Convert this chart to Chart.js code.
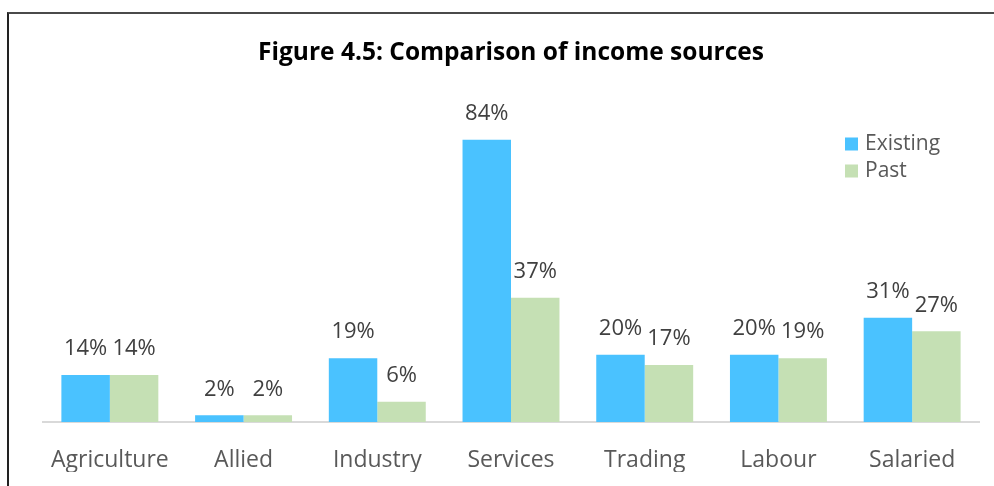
<!DOCTYPE html>
<html>
<head>
<meta charset="utf-8">
<script src="https://cdn.jsdelivr.net/npm/chart.js@4"></script>
<style>
  html, body { margin: 0; padding: 0; background: #fff; overflow: hidden; }
  #frame { position: absolute; left: 7px; top: 12px; width: 1100px; height: 600px;
           border-top: 2px solid #4a4a4a; border-left: 2px solid #222; }
  #wrap { position: absolute; left: 0; top: 0; width: 994px; height: 486px; }
</style>
</head>
<body>
<div id="frame"></div>
<div id="wrap"><canvas id="income-chart"></canvas></div>
<script>
/* Income source shares, in percent */
let categories = ['Agriculture', 'Allied', 'Industry', 'Services', 'Trading', 'Labour', 'Salaried']
let existingValues = [14, 2, 19, 84, 20, 20, 31]
let pastValues = [14, 2, 6, 37, 17, 19, 27]
let seriesNames = ['Existing', 'Past']
let seriesColors = ['#4AC2FF', '#C5E0B4']

let fontFamily = '"Open Sans", "Noto Sans", sans-serif'

// value labels above each bar
let valueLabels = {
    id: 'valueLabels',
    afterDatasetsDraw(chart) {
        let ctx = chart.ctx
        ctx.save()
        ctx.font = '22px ' + fontFamily
        ctx.fillStyle = '#404040'
        ctx.textAlign = 'center'
        ctx.textBaseline = 'middle'
        chart.data.datasets.forEach((ds, di) => {
            let meta = chart.getDatasetMeta(di)
            meta.data.forEach((bar, i) => {
                ctx.fillText(ds.data[i] + '%', bar.x, bar.y - 26)
            })
        })
        ctx.restore()
    }
}

// small legend in the top right corner of the plot
let cornerLegend = {
    id: 'cornerLegend',
    afterDraw(chart) {
        let ctx = chart.ctx
        ctx.save()
        ctx.font = '21px ' + fontFamily
        ctx.textBaseline = 'middle'
        chart.data.datasets.forEach((ds, di) => {
            let y = 144 + di * 27
            ctx.fillStyle = ds.backgroundColor
            ctx.fillRect(845, y - 6.5, 13, 13)
            ctx.fillStyle = '#595959'
            ctx.fillText(ds.label, 865, y)
        })
        ctx.restore()
    }
}

let ctx = document.querySelector('#income-chart').getContext('2d')

let incomeChart = new Chart(ctx, {
    type: 'bar',
    data: {
        labels: categories,
        datasets: [
            { label: seriesNames[0], data: existingValues, backgroundColor: seriesColors[0] },
            { label: seriesNames[1], data: pastValues, backgroundColor: seriesColors[1] }
        ]
    },
    options: {
        responsive: true,
        maintainAspectRatio: false,
        animation: false,
        layout: { padding: { left: 43, right: 15, top: 0, bottom: 14 } },
        datasets: { bar: { categoryPercentage: 0.725, barPercentage: 1.0 } },
        plugins: {
            legend: { display: false },
            tooltip: { enabled: false },
            title: {
                display: true,
                text: 'Figure 4.5: Comparison of income sources',
                color: '#000',
                font: { family: fontFamily, size: 24.5, weight: 'bold', lineHeight: 1.2 },
                padding: { top: 38, bottom: 18.6 }
            }
        },
        scales: {
            x: {
                grid: { display: false, drawTicks: false, tickLength: 0 },
                border: { display: true, color: '#d9d9d9', width: 2 },
                ticks: { color: '#595959', padding: 25, font: { family: fontFamily, size: 23, lineHeight: 1.2 } },
                afterFit(scale) { scale.height = 50 }
            },
            y: {
                display: false,
                min: 0,
                max: 100
            }
        }
    },
    plugins: [valueLabels, cornerLegend]
})
</script>
</body>
</html>
